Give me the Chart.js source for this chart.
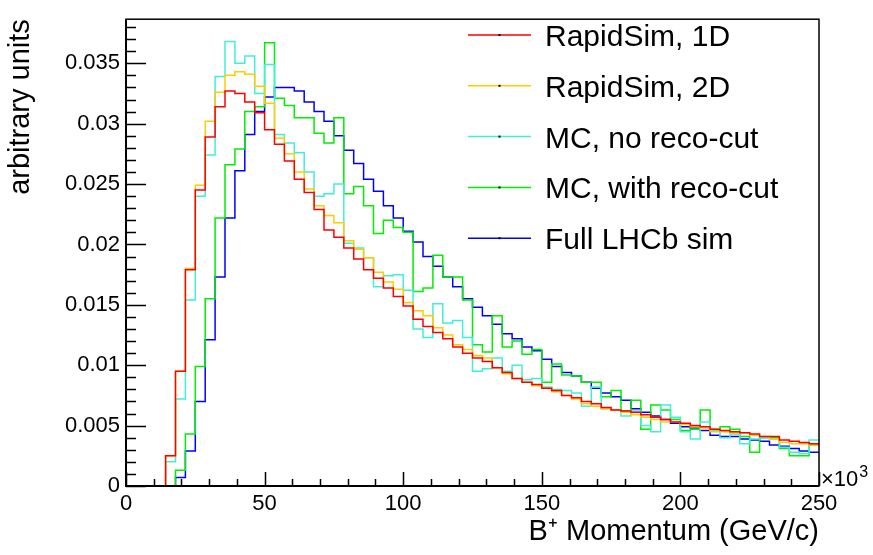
<!DOCTYPE html>
<html><head><meta charset="utf-8">
<script src="https://cdn.jsdelivr.net/npm/chart.js@4.4.0/dist/chart.umd.min.js"></script>
<style>html,body{margin:0;padding:0;background:#fff}canvas{display:block}</style>
</head><body>
<canvas id="c" width="873" height="555"></canvas>
<script>
// Histogram binning (x in units of 10^3 MeV/c)
const xMin = 0, xMax = 250, nBins = 70;

const seriesNames = ['RapidSim, 1D', 'RapidSim, 2D', 'MC, no reco-cut', 'MC, with reco-cut', 'Full LHCb sim'];
const seriesColors = ['#ff0000', '#ffcc00', '#40f0d5', '#00ee00', '#0000ff'];

const rapidSim1D = [0,0,0,0,0.0025,0.0095,0.0179,0.0245,0.0289,0.0314,
  0.0327,0.0325,0.0318,0.0309,0.0295,0.0283,0.0269,0.0254,0.0243,0.0229,
  0.0212,0.0206,0.0197,0.0188,0.0179,0.0172,0.0164,0.0157,0.0149,0.0138,
  0.0132,0.0127,0.0122,0.0115,0.0110,0.0106,0.0103,0.0098,0.0094,0.0089,
  0.0086,0.0084,0.0081,0.0079,0.0075,0.0073,0.0070,0.0068,0.0065,0.0063,
  0.0062,0.0061,0.0059,0.0057,0.0055,0.0053,0.0052,0.0050,0.0049,0.0047,
  0.0046,0.0045,0.0044,0.0043,0.0041,0.0041,0.0038,0.0037,0.0036,0.0035];

const rapidSim2D = [0,0,0,0,0.0025,0.0095,0.0180,0.0249,0.0302,0.0326,
  0.0340,0.0343,0.0341,0.0331,0.0317,0.0288,0.0275,0.0260,0.0246,0.0232,
  0.0224,0.0218,0.0203,0.0196,0.0189,0.0177,0.0169,0.0163,0.0152,0.0145,
  0.0141,0.0131,0.0125,0.0117,0.0113,0.0108,0.0106,0.0098,0.0093,0.0089,
  0.0086,0.0083,0.0081,0.0078,0.0075,0.0072,0.0068,0.0066,0.0064,0.0063,
  0.0061,0.0059,0.0057,0.0055,0.0053,0.0053,0.0051,0.0049,0.0048,0.0045,
  0.0045,0.0044,0.0044,0.0042,0.0041,0.0039,0.0036,0.0035,0.0035,0.0034];

const mcNoRecoCut = [0,0,0,0,0.0020,0.0072,0.0154,0.0240,0.0274,0.0339,
  0.0368,0.0350,0.0356,0.0325,0.0349,0.0291,0.0284,0.0276,0.0260,0.0240,
  0.0242,0.0250,0.0201,0.0197,0.0189,0.0165,0.0174,0.0175,0.0162,0.0130,
  0.0123,0.0151,0.0135,0.0137,0.0123,0.0095,0.0097,0.0106,0.0095,0.0100,
  0.0088,0.0089,0.0082,0.0080,0.0079,0.0077,0.0066,0.0082,0.0064,0.0063,
  0.0058,0.0062,0.0050,0.0045,0.0067,0.0057,0.0045,0.0039,0.0053,0.0046,
  0.0040,0.0043,0.0035,0.0039,0.0040,0.0039,0.0032,0.0028,0.0027,0.0038];

const mcWithRecoCut = [0,0,0,0,0,0.0013,0.0043,0.0099,0.0155,0.0222,
  0.0266,0.0279,0.0310,0.0314,0.0367,0.0321,0.0315,0.0305,0.0305,0.0292,
  0.0284,0.0305,0.0242,0.0248,0.0232,0.0209,0.0220,0.0214,0.0210,0.0161,
  0.0164,0.0191,0.0173,0.0173,0.0154,0.0117,0.0111,0.0141,0.0115,0.0120,
  0.0109,0.0113,0.0086,0.0101,0.0092,0.0091,0.0086,0.0086,0.0074,0.0079,
  0.0062,0.0071,0.0047,0.0067,0.0063,0.0055,0.0046,0.0047,0.0063,0.0047,
  0.0049,0.0047,0.0041,0.0028,0.0040,0.0040,0.0031,0.0025,0.0025,0.0034];

const fullLHCbSim = [0,0,0,0,0,0.0007,0.0029,0.0070,0.0121,0.0173,
  0.0222,0.0261,0.0291,0.0310,0.0322,0.0330,0.0330,0.0327,0.0318,0.0310,
  0.0302,0.0290,0.0278,0.0267,0.0254,0.0244,0.0232,0.0222,0.0211,0.0202,
  0.0190,0.0182,0.0173,0.0165,0.0155,0.0148,0.0141,0.0134,0.0126,0.0122,
  0.0115,0.0112,0.0105,0.0099,0.0094,0.0091,0.0086,0.0081,0.0077,0.0074,
  0.0071,0.0064,0.0061,0.0058,0.0055,0.0052,0.0049,0.0048,0.0046,0.0042,
  0.0041,0.0041,0.0039,0.0038,0.0037,0.0034,0.0033,0.0031,0.0029,0.0028];

const xTickValues = [0, 50, 100, 150, 200, 250];
const xTickLabels = ['0', '50', '100', '150', '200', '250'];
const yTickValues = [0, 0.005, 0.01, 0.015, 0.02, 0.025, 0.03, 0.035];
const yTickLabels = ['0', '0.005', '0.01', '0.015', '0.02', '0.025', '0.03', '0.035'];
const yMax = 0.03865;

const FONT = '"Liberation Sans", Arial, Helvetica, sans-serif';

function histPoints(values) {
  const w = (xMax - xMin) / nBins;
  const pts = values.map((v, k) => ({ x: xMin + k * w, y: v }));
  pts.push({ x: xMax, y: values[values.length - 1] });
  return pts;
}

const allSeries = [rapidSim1D, rapidSim2D, mcNoRecoCut, mcWithRecoCut, fullLHCbSim];
const datasets = allSeries.map((vals, i) => ({
  label: seriesNames[i],
  data: histPoints(vals),
  borderColor: seriesColors[i],
  backgroundColor: seriesColors[i],
  borderWidth: 1.5,
  pointRadius: 0,
  fill: false,
  stepped: 'before',
  tension: 0
}));

const frameAndTicks = {
  id: 'frameAndTicks',
  afterDatasetsDraw(chart) {
    const { ctx, chartArea: a, scales: { x, y } } = chart;
    ctx.save();
    ctx.strokeStyle = '#000';
    ctx.lineWidth = 1.5;
    ctx.strokeRect(a.left, a.top, a.right - a.left, a.bottom - a.top);
    ctx.lineWidth = 2;
    ctx.beginPath();
    ctx.moveTo(a.left, a.top); ctx.lineTo(a.left, a.bottom); ctx.lineTo(a.right, a.bottom);
    ctx.stroke();
    ctx.lineWidth = 1.5;
    ctx.beginPath();
    for (let i = 0; i * 0.001 <= yMax + 1e-9; i++) {
      const py = Math.round(y.getPixelForValue(i * 0.001)) + 0.5;
      const len = (i % 5 === 0) ? 20 : 10;
      ctx.moveTo(a.left, py); ctx.lineTo(a.left + len, py);
    }
    for (let i = 0; i <= 25; i++) {
      const px = Math.round(x.getPixelForValue(i * 10)) + 0.5;
      const len = (i % 5 === 0) ? 14 : 7;
      ctx.moveTo(px, a.bottom); ctx.lineTo(px, a.bottom - len);
    }
    ctx.stroke();
    ctx.restore();
  }
};

const histLegend = {
  id: 'histLegend',
  afterDraw(chart) {
    const ctx = chart.ctx;
    ctx.save();
    chart.data.datasets.forEach((ds, i) => {
      const yc = 35 + i * 50.8;
      ctx.strokeStyle = ds.borderColor;
      ctx.lineWidth = 1.5;
      ctx.beginPath(); ctx.moveTo(468, yc); ctx.lineTo(531, yc); ctx.stroke();
      ctx.fillStyle = '#000';
      ctx.fillRect(498.5, yc - 1, 2, 2);
      ctx.font = '30px ' + FONT;
      ctx.textAlign = 'left';
      ctx.textBaseline = 'alphabetic';
      ctx.fillText(ds.label, 545, yc + 11);
    });
    // axis multiplier
    ctx.fillStyle = '#000';
    ctx.font = '22px ' + FONT;
    ctx.textAlign = 'left';
    ctx.fillText('\u00d710', 821, 486);
    const w = ctx.measureText('\u00d710').width;
    ctx.font = '16px ' + FONT;
    ctx.fillText('3', 821 + w + 1, 477);
    ctx.restore();
  }
};

new Chart(document.getElementById('c'), {
  type: 'line',
  data: { datasets },
  options: {
    responsive: false,
    animation: false,
    events: [],
    layout: { padding: { top: 3, right: 54, left: 0, bottom: 0 } },
    plugins: { legend: { display: false }, tooltip: { enabled: false } },
    scales: {
      x: {
        type: 'linear', min: xMin, max: xMax,
        grid: { display: false, drawTicks: false },
        border: { display: false },
        afterBuildTicks: (s) => { s.ticks = xTickValues.map(v => ({ value: v })); },
        afterFit: (s) => { s.height = 69; },
        ticks: {
          autoSkip: false, maxRotation: 0, padding: 5, color: '#000',
          font: { family: FONT, size: 22 },
          callback: (v, i) => xTickLabels[i]
        },
        title: {
          display: true, text: 'B\u207A Momentum (GeV/c)', align: 'end', color: '#000',
          font: { family: FONT, size: 29 }, padding: { top: 0, bottom: 6 }
        }
      },
      y: {
        type: 'linear', min: 0, max: yMax,
        grid: { display: false, drawTicks: false },
        border: { display: false },
        afterBuildTicks: (s) => { s.ticks = yTickValues.map(v => ({ value: v })); },
        afterFit: (s) => { s.width = 126; },
        ticks: {
          autoSkip: false, padding: 6, color: '#000', includeBounds: false,
          font: { family: FONT, size: 22 },
          callback: (v, i) => yTickLabels[i]
        },
        title: {
          display: true, text: 'arbitrary units', align: 'end', color: '#000',
          font: { family: FONT, size: 29 }, padding: { top: 4, bottom: 0 }
        }
      }
    }
  },
  plugins: [frameAndTicks, histLegend]
});
</script>
</body></html>
